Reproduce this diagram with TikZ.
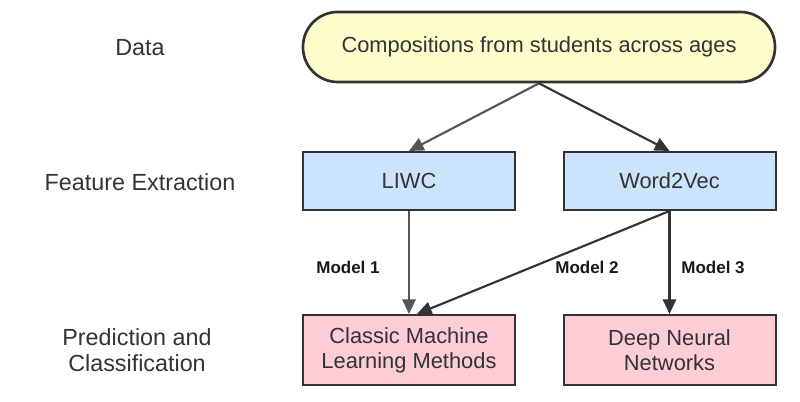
\documentclass[tikz,border=0pt]{standalone}
\usepackage{fontspec}
\setmainfont{Liberation Sans}
\usetikzlibrary{arrows.meta}
\definecolor{datafill}{HTML}{FEFDCB}
\definecolor{featfill}{HTML}{CCE4FB}
\definecolor{predfill}{HTML}{FDCDD5}
\definecolor{ink}{HTML}{333333}
\definecolor{softink}{HTML}{555555}

\begin{document}
\begin{tikzpicture}[x=0.75pt, y=-0.75pt,
        box/.style={draw=ink, line width=1.5pt, minimum width=159pt, text=ink, align=center,
            font=\fontsize{16.4}{18.75}\selectfont},
        stage/.style={text=ink, align=center, font=\fontsize{17.5}{19.5}\selectfont},
        model/.style={text=black!90, font=\bfseries\fontsize{12.75}{15}\selectfont},
        link/.style={line width=1.6pt, -{Triangle[length=11pt,width=10pt]}}]
        \useasboundingbox (0, 0) rectangle (800, 402);

        % stages on the left
        \node[stage] (data) at (140, 48) {Data};
        \node[stage] (feat) at (140, 182) {Feature Extraction};
        \node[stage] (pred) at (137, 350) {Prediction and\\Classification};

        % boxes
        \node[box, fill=datafill, line width=2pt, minimum width=354pt, minimum height=52.5pt,
            rounded corners=26pt] (comp) at (539, 47) {Compositions from students across ages};
        \node[box, fill=featfill, minimum height=43.5pt] (liwc) at (409, 181) {LIWC};
        \node[box, fill=featfill, minimum height=43.5pt] (w2v) at (669.5, 181) {Word2Vec};
        \node[box, fill=predfill, minimum height=52.5pt] (cml) at (409, 350) {Classic Machine\\Learning Methods};
        \node[box, fill=predfill, minimum height=52.5pt] (dnn) at (669.5, 350) {Deep Neural\\Networks};

        \draw[link, softink] (comp.south) -- (liwc.north);
        \draw[link, ink] (comp.south) -- (w2v.north);
        \draw[link, softink] (liwc.south) -- (cml.north);
        \draw[link, ink] (w2v.south) -- ([xshift=6pt]cml.north);
        \draw[link, ink] (w2v.south) -- (dnn.north);

        \node[model] (m1) at (348, 267) {Model 1};
        \node[model] (m2) at (587, 267) {Model 2};
        \node[model] (m3) at (713, 267) {Model 3};

    \end{tikzpicture}
\end{document}
